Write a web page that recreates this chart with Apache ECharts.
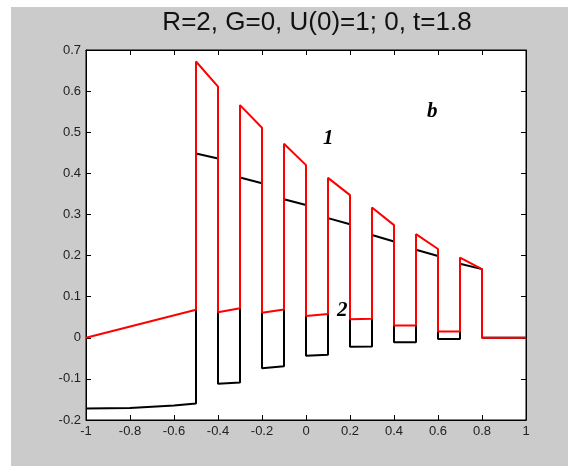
<!DOCTYPE html>
<html>
<head>
<meta charset="utf-8">
<script src="https://cdn.jsdelivr.net/npm/echarts@6/dist/echarts.min.js"></script>
<style>
  html, body { margin: 0; padding: 0; background: #fff; }
  #chart { width: 568px; height: 466px; }
</style>
</head>
<body>
<div id="chart"></div>
<script>
// curve 1 (red)
var redX = [-1, -0.5, -0.5, -0.4, -0.4, -0.3, -0.3, -0.2, -0.2, -0.1, -0.1, 0, 0, 0.1, 0.1, 0.2, 0.2, 0.3, 0.3, 0.4, 0.4, 0.5, 0.5, 0.6, 0.6, 0.7, 0.7, 0.8, 0.8, 1]
var redY = [0, 0.068, 0.672, 0.611, 0.062, 0.072, 0.566, 0.511, 0.061, 0.069, 0.472, 0.420, 0.053, 0.058, 0.389, 0.347, 0.045, 0.046, 0.317, 0.274, 0.030, 0.030, 0.252, 0.216, 0.015, 0.015, 0.195, 0.167, 0, 0]
// curve 2 (black)
var blackX = [-1, -0.8, -0.7, -0.6, -0.5, -0.5, -0.4, -0.4, -0.3, -0.3, -0.2, -0.2, -0.1, -0.1, 0, 0, 0.1, 0.1, 0.2, 0.2, 0.3, 0.3, 0.4, 0.4, 0.5, 0.5, 0.6, 0.6, 0.7, 0.7, 0.8, 0.8, 1]
var blackY = [-0.172, -0.171, -0.168, -0.165, -0.160, 0.448, 0.436, -0.112, -0.109, 0.390, 0.376, -0.074, -0.069, 0.337, 0.323, -0.044, -0.041, 0.291, 0.276, -0.022, -0.021, 0.250, 0.234, -0.011, -0.011, 0.214, 0.199, -0.003, -0.003, 0.180, 0.167, 0, 0]

function pairs (xs, ys) {
  return xs.map(function (x, i) { return [x, ys[i]] })
}

var charts = echarts.init(document.getElementById('chart'))
var tickStyle = { inside: true, length: 5, lineStyle: { color: '#000' } }
var lineAx = { onZero: false, lineStyle: { color: '#000', width: 1 } }
var labelStyle = { color: '#222', fontFamily: 'Arial, Liberation Sans', fontSize: 13 }
var options = {
  backgroundColor: '#fff',
  animation: false,
  title: {
    text: 'R=2, G=0, U(0)=1; 0, t=1.8',
    left: 312,
    top: 5,
    textAlign: 'center',
    textStyle: { color: '#111', fontFamily: 'Arial, Liberation Sans', fontSize: 26, fontWeight: 'normal' }
  },
  graphic: [
    { type: 'rect', z: -10, silent: true, shape: { x: 11, y: 7, width: 557, height: 459 }, style: { fill: '#cbcbcb' } },
    { type: 'text', left: 323, top: 128, style: { text: '1', font: 'italic bold 21px "Liberation Serif", "DejaVu Serif", serif', fill: '#000' } },
    { type: 'text', left: 337, top: 300, style: { text: '2', font: 'italic bold 21px "Liberation Serif", "DejaVu Serif", serif', fill: '#000' } },
    { type: 'text', left: 427, top: 101, style: { text: 'b', font: 'italic bold 21px "Liberation Serif", "DejaVu Serif", serif', fill: '#000' } }
  ],
  grid: {
    left: 86,
    right: 42,
    top: 50,
    bottom: 46,
    show: true,
    backgroundColor: '#fff',
    borderColor: '#000',
    borderWidth: 1
  },
  xAxis: [{
    type: 'value',
    min: -1,
    max: 1,
    interval: 0.2,
    axisLine: lineAx,
    axisTick: tickStyle,
    splitLine: { show: false },
    axisLabel: Object.assign({ margin: 5 }, labelStyle)
  }, {
    type: 'value',
    position: 'top',
    min: -1,
    max: 1,
    interval: 0.2,
    axisLine: lineAx,
    axisTick: tickStyle,
    splitLine: { show: false },
    axisLabel: { show: false }
  }],
  yAxis: [{
    type: 'value',
    min: -0.2,
    max: 0.7,
    interval: 0.1,
    axisLine: lineAx,
    axisTick: tickStyle,
    splitLine: { show: false },
    axisLabel: Object.assign({ margin: 5, formatter: function (v) { return String(Math.round(v * 10) / 10) } }, labelStyle)
  }, {
    type: 'value',
    position: 'right',
    min: -0.2,
    max: 0.7,
    interval: 0.1,
    axisLine: lineAx,
    axisTick: tickStyle,
    splitLine: { show: false },
    axisLabel: { show: false }
  }],
  series: [{
    name: '2',
    type: 'line',
    showSymbol: false,
    z: 2,
    lineStyle: { color: '#000', width: 2 },
    data: pairs(blackX, blackY)
  }, {
    name: '1',
    type: 'line',
    showSymbol: false,
    z: 3,
    lineStyle: { color: '#ff0000', width: 2 },
    data: pairs(redX, redY)
  }]
}
charts.setOption(options)
window.addEventListener('resize', function () {
  charts.resize()
})
</script>
</body>
</html>
